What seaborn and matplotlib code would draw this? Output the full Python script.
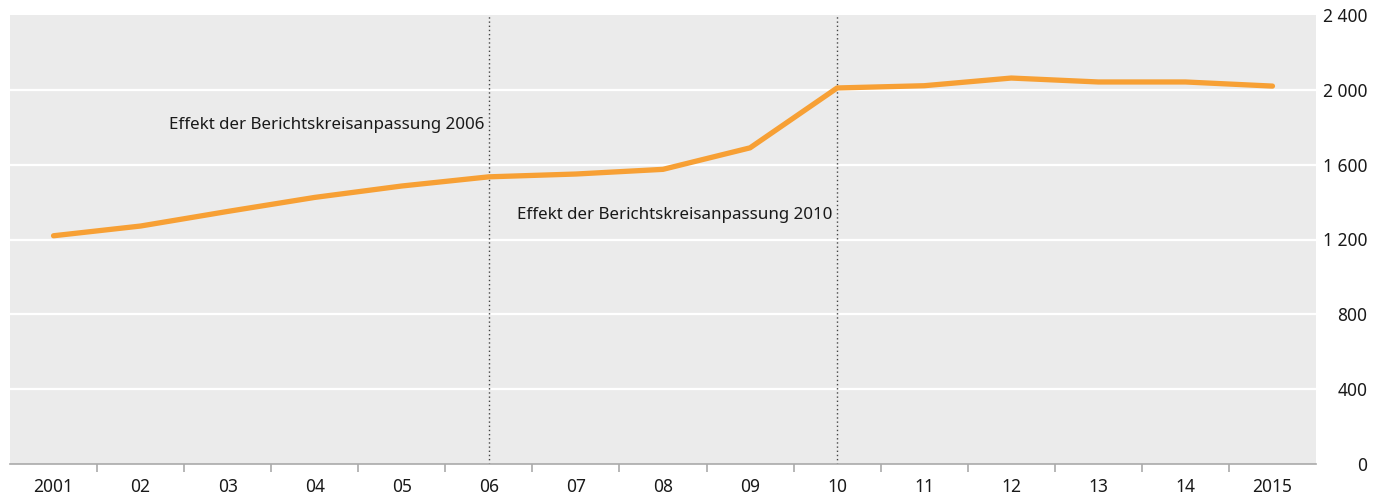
import matplotlib
matplotlib.use("Agg")
import matplotlib.pyplot as plt
import seaborn as sns
import pandas as pd
import numpy as np

# Werte
years = ["2001", "02", "03", "04", "05", "06", "07", "08", "09", "10",
         "11", "12", "13", "14", "2015"]
values = [1220, 1272, 1350, 1425, 1486, 1535, 1550, 1575, 1690, 2010,
          2022, 2063, 2042, 2042, 2020]
y_ticks = [0, 400, 800, 1200, 1600, 2000, 2400]
effect_years = ["06", "10"]
effect_labels = ["Effekt der Berichtskreisanpassung 2006",
                 "Effekt der Berichtskreisanpassung 2010"]
effect_label_y = [1810, 1330]

sns.set_style("white")
plt.rcParams["font.family"] = ["Noto Sans", "DejaVu Sans"]

df = pd.DataFrame({"Jahr": years, "Wert": values})

fig = plt.figure(figsize=(13.86, 4.95), dpi=100)
ax = fig.add_axes([10 / 1386, 31 / 495, 1306 / 1386, 449 / 495])
ax.set_facecolor("#ebebeb")

for t in y_ticks[1:-1]:
    ax.axhline(t, color="white", lw=1.6, zorder=1)

sns.lineplot(data=df, x="Jahr", y="Wert", color="#f7a035", lw=3.8,
             ax=ax, zorder=3, sort=False)

for yr, lab, ly in zip(effect_years, effect_labels, effect_label_y):
    xi = years.index(yr)
    ax.axvline(xi, color="#444444", ls=(0, (1, 2)), lw=1, zorder=2)
    ax.text(xi - 0.05, ly, lab, ha="right", va="center", fontsize=12.2,
            color="#1a1a1a", zorder=4)

ax.set_xlim(-0.5, len(years) - 0.5)
ax.set_ylim(0, 2400)
ax.set_xticks(range(len(years)))
ax.set_xticklabels(years)
ax.set_xticks(np.arange(0.5, len(years) - 1, 1.0), minor=True)
ax.tick_params(axis="x", which="major", bottom=False, length=0, pad=10,
               labelsize=12.5, labelcolor="#1a1a1a")
ax.tick_params(axis="x", which="minor", bottom=True, length=6, width=1.2,
               color="#aaaaaa", direction="out")

ax.yaxis.tick_right()
ax.set_yticks(y_ticks)
ax.set_yticklabels([f"{t:,}".replace(",", " ") for t in y_ticks])
ax.tick_params(axis="y", length=0, pad=37, labelsize=12.5, labelcolor="#1a1a1a")
for lbl in ax.get_yticklabels():
    lbl.set_horizontalalignment("right")

for s in ["top", "left", "right"]:
    ax.spines[s].set_visible(False)
ax.spines["bottom"].set_color("#aaaaaa")
ax.spines["bottom"].set_linewidth(1.2)
ax.set_xlabel("")
ax.set_ylabel("")

fig.savefig("out.png", dpi=100)
